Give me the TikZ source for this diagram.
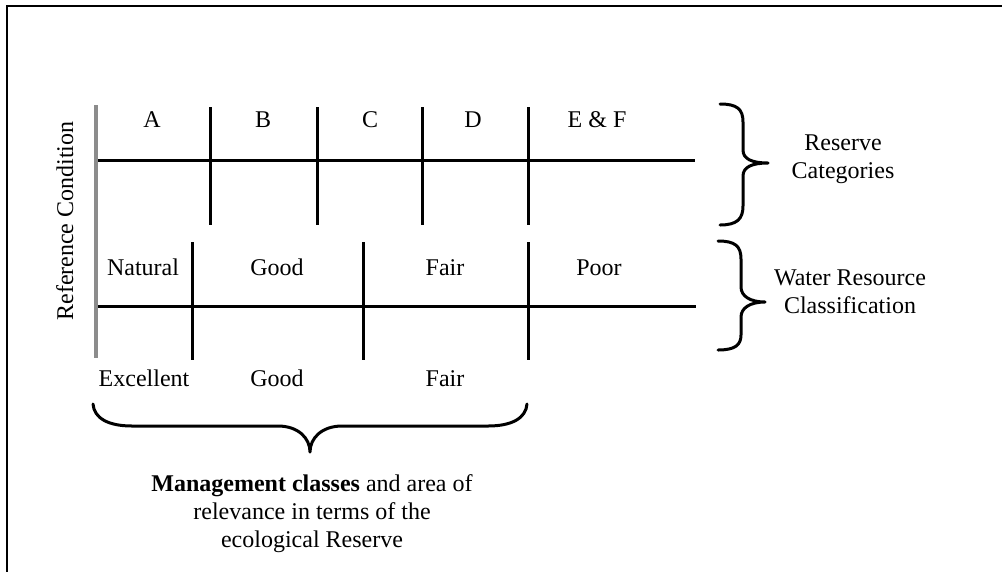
\documentclass[tikz,border=0pt]{standalone}
\usepackage{fontspec}
\setmainfont{Liberation Serif}
\usetikzlibrary{positioning}

\begin{document}
\begin{tikzpicture}[x=0.75pt,y=-0.75pt,
    rule/.style={line width=2.25pt},
    refbar/.style={line width=3pt,draw=black!45},
    brc/.style={line width=2.25pt,line cap=round,line join=round},
    lbl/.style={font=\fontsize{18}{21}\selectfont,anchor=base,inner sep=0pt,align=center}
]
\useasboundingbox (0,0) rectangle (1002,572);

% frame (top and left only)
\draw[line width=1.8pt] (1002,6) -- (7,6) -- (7,572);

% reserve categories row
\draw[rule] (96,160) -- (695,160);
\foreach \x in {210,317,422,528}
    \draw[rule] (\x,107) -- (\x,225);

% water resource classification row
\draw[rule] (96,306) -- (696,306);
\foreach \x in {192,363,528}
    \draw[rule] (\x,242) -- (\x,360);

% reference condition bar
\draw[refbar] (96,105) -- (96,358);
\node[lbl,rotate=90] (refcond) at (73,221) {Reference Condition};

\node[lbl] (catA)  at (152,127) {A};
\node[lbl] (catB)  at (263,127) {B};
\node[lbl] (catC)  at (370,127) {C};
\node[lbl] (catD)  at (473,127) {D};
\node[lbl] (catEF) at (597,127) {E \& F};

\node[lbl] (natural) at (143,275) {Natural};
\node[lbl] (good)    at (277,275) {Good};
\node[lbl] (fair)    at (445,275) {Fair};
\node[lbl] (poor)    at (599,275) {Poor};

\node[lbl] (excellent) at (144,386) {Excellent};
\node[lbl] (mgood)     at (277,386) {Good};
\node[lbl] (mfair)     at (445,386) {Fair};

% braces
\draw[brc] (720,104) .. controls (737,104) and (743,109) .. (743,122) -- (743,150)
    .. controls (743,159) and (752,163) .. (768,163)
    .. controls (752,163) and (743,167) .. (743,176) -- (743,206)
    .. controls (743,219) and (737,225) .. (720,225);
\draw[brc] (718,241) .. controls (735,241) and (741,246) .. (741,259) -- (741,287)
    .. controls (741,296) and (750,302) .. (765,302)
    .. controls (750,302) and (741,308) .. (741,317) -- (741,335)
    .. controls (741,345) and (735,350) .. (718,350);
\draw[brc] (93,404) .. controls (94,418) and (108,426) .. (132,426) -- (278,426)
    .. controls (298,426) and (310,438) .. (310,452)
    .. controls (310,438) and (322,426) .. (342,426) -- (488,426)
    .. controls (512,426) and (526,418) .. (527,404);

% multi-line labels sit on the baseline of their last line
\node[lbl] (rescat) at (843,178) {Reserve\\Categories};
\node[lbl] (wrc)    at (850,313) {Water Resource\\Classification};
\node[lbl] (mgmt)   at (312,547) {\textbf{Management classes} and area of\\relevance in terms of the\\ecological Reserve};
\end{tikzpicture}
\end{document}
